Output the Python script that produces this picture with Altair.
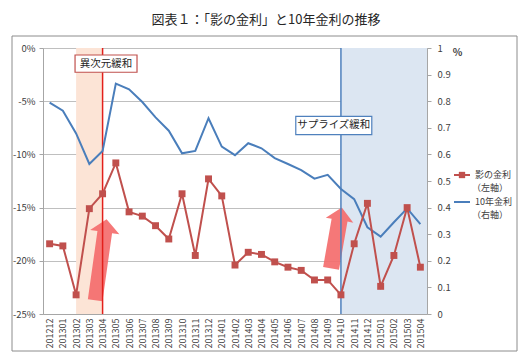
import altair as alt
import pandas as pd

months = ["201212", "201301", "201302", "201303", "201304", "201305", "201306",
          "201307", "201308", "201309", "201310", "201311", "201312", "201401",
          "201402", "201403", "201404", "201405", "201406", "201407", "201408",
          "201409", "201410", "201411", "201412", "201501", "201502", "201503",
          "201504"]
shadow_rate = [-18.4, -18.6, -23.2, -15.1, -13.7, -10.8, -15.4, -15.8, -16.7, -17.95,
               -13.7, -19.5, -12.3, -13.9, -20.4, -19.2, -19.4, -20.1, -20.6, -20.9,
               -21.8, -21.8, -23.2, -18.4, -14.6, -22.4, -19.5, -15.0, -20.6]
jgb10y = [0.795, 0.764, 0.679, 0.564, 0.613, 0.866, 0.845, 0.797, 0.739, 0.689,
          0.604, 0.613, 0.736, 0.629, 0.597, 0.642, 0.623, 0.586, 0.564, 0.541,
          0.509, 0.523, 0.470, 0.432, 0.326, 0.291, 0.345, 0.397, 0.338]
left_ticks = [-25, -20, -15, -10, -5, 0]
right_ticks = [0, 0.1, 0.2, 0.3, 0.4, 0.5, 0.6, 0.7, 0.8, 0.9, 1]
series_names = ["影の金利", "10年金利"]
series_notes = ["（左軸）", "（右軸）"]
title_text = "図表１：「影の金利」と10年金利の推移"

FONT = "Noto Sans CJK JP"
RED = "#C0504D"
BLUE = "#4A7EBB"
W, H = 384, 266

idx = list(range(len(months)))
df = pd.DataFrame({"i": idx, "month": months, "shadow": shadow_rate, "jgb": jgb10y})

label_expr = "[" + ",".join(f"'{m}'" for m in months) + "][datum.value]"
xscale = alt.Scale(domain=[-0.5, len(months) - 0.5], nice=False, zero=False)
yleft = alt.Scale(domain=[-25, 0], nice=False, zero=False)
yright = alt.Scale(domain=[0, 1], nice=False, zero=False)

x_axis = alt.Axis(values=idx, labelExpr=label_expr, labelAngle=270, labelFont=FONT,
                  labelFontSize=9, labelColor="#404040", ticks=False,
                  domainColor="#A6A6A6", grid=False, title=None, labelPadding=4)


def X(field):
    return alt.X(field, type="quantitative", scale=xscale, axis=x_axis)


def YL(field):
    return alt.Y(field, type="quantitative", scale=yleft, axis=None)


one = pd.DataFrame({"a": [0]})

# shaded periods (between months, by index)
orange = alt.Chart(pd.DataFrame({"s": [2], "e": [4]})).mark_rect(color="#FCE4D6").encode(
    x=X("s"), x2="e")
blueshade = alt.Chart(pd.DataFrame({"s": [22], "e": [len(months) - 0.5]})).mark_rect(
    color="#DCE6F2").encode(x=X("s"), x2="e")

# outer frame
frame = alt.Chart(one).mark_rect(fill="transparent", stroke="#8C8C8C", strokeWidth=1).encode(
    x=alt.value(-31), x2=alt.value(474), y=alt.value(-12), y2=alt.value(303))

# arrows
arrow1 = alt.Chart(pd.DataFrame({"i": [3.87], "v": [-19.9]})).mark_point(
    shape="M0,-1 L0.36,-0.68 L0.18,-0.68 L0.18,1 L-0.18,1 L-0.18,-0.68 L-0.36,-0.68 Z",
    filled=True, color="#F46C6C", opacity=0.92, size=6724, angle=8, strokeWidth=0).encode(
    x=X("i"), y=YL("v"))
arrow2 = alt.Chart(pd.DataFrame({"i": [21.66], "v": [-17.85]})).mark_point(
    shape="M0,-1 L0.45,-0.58 L0.26,-0.58 L0.26,1 L-0.26,1 L-0.26,-0.58 L-0.45,-0.58 Z",
    filled=True, color="#F46C6C", opacity=0.92, size=3844, angle=10, strokeWidth=0).encode(
    x=X("i"), y=YL("v"))

redrule = alt.Chart(pd.DataFrame({"i": [4]})).mark_rule(color="#E3201B", strokeWidth=1.5).encode(
    x=X("i"))
bluerule = alt.Chart(pd.DataFrame({"i": [22]})).mark_rule(color="#4F81BD", strokeWidth=1.5).encode(
    x=X("i"))

base = alt.Chart(df)

blue_line = base.mark_line(color=BLUE, strokeWidth=2).encode(
    x=X("i"),
    y=alt.Y("jgb:Q", scale=yright,
            axis=alt.Axis(orient="right", values=right_ticks, format="~g", grid=False,
                          labelFont=FONT, labelFontSize=9.5, labelColor="#404040",
                          domainColor="#A6A6A6", tickColor="#A6A6A6", tickSize=4,
                          labelPadding=6, title="%", titleAngle=0, titleFont=FONT,
                          titleFontSize=10, titleFontWeight="bold", titleColor="#404040",
                          titleX=30, titleY=4, titleAlign="center", titleBaseline="middle")))

red_line = base.mark_line(color=RED, strokeWidth=2).encode(
    x=X("i"),
    y=alt.Y("shadow:Q", scale=yleft,
            axis=alt.Axis(orient="left", values=left_ticks, labelExpr="datum.value + '%'",
                          grid=True, gridColor="#BFBFBF", gridWidth=1,
                          labelFont=FONT, labelFontSize=9.5, labelColor="#404040",
                          domainColor="#A6A6A6", tickColor="#A6A6A6", tickSize=4,
                          labelPadding=4, title=None)))
red_pts = base.mark_point(shape="square", filled=True, size=48, color=RED, opacity=1).encode(
    x=X("i"), y=YL("shadow"))

# annotation boxes
box1 = alt.Chart(pd.DataFrame({"a": [1.92], "b": [6.6], "t": [-0.66], "u": [-2.28]})).mark_rect(
    fill="white", stroke=RED, strokeWidth=1.2).encode(x=X("a"), x2="b", y=YL("t"), y2="u")
txt1 = alt.Chart(pd.DataFrame({"i": [4.26], "v": [-1.47], "s": ["異次元緩和"]})).mark_text(
    font=FONT, fontSize=10.5, color="#262626").encode(x=X("i"), y=YL("v"), text="s:N")
box2 = alt.Chart(pd.DataFrame({"a": [18.59], "b": [24.33], "t": [-6.42], "u": [-8.15]})).mark_rect(
    fill="white", stroke="#4F81BD", strokeWidth=1.2).encode(x=X("a"), x2="b", y=YL("t"), y2="u")
txt2 = alt.Chart(pd.DataFrame({"i": [21.46], "v": [-7.28], "s": ["サプライズ緩和"]})).mark_text(
    font=FONT, fontSize=10.5, color="#262626").encode(x=X("i"), y=YL("v"), text="s:N")

# legend (drawn)
leg = []
for k, (name, note, col, y0) in enumerate(zip(series_names, series_notes, [RED, BLUE], [127, 154])):
    leg.append(alt.Chart(one).mark_rule(color=col, strokeWidth=2).encode(
        x=alt.value(411), x2=alt.value(427), y=alt.value(y0)))
    if k == 0:
        leg.append(alt.Chart(one).mark_point(shape="square", filled=True, size=40, color=col,
                                             opacity=1).encode(x=alt.value(419), y=alt.value(y0)))
    leg.append(alt.Chart(pd.DataFrame({"s": [name]})).mark_text(
        font=FONT, fontSize=9, color="#404040", align="left", baseline="middle").encode(
        x=alt.value(432), y=alt.value(y0), text="s:N"))
    leg.append(alt.Chart(pd.DataFrame({"s": [note]})).mark_text(
        font=FONT, fontSize=9, color="#404040", align="left", baseline="middle").encode(
        x=alt.value(429), y=alt.value(y0 + 12.5), text="s:N"))

chart = alt.layer(
    orange, blueshade, frame, arrow1, arrow2, redrule, bluerule,
    blue_line, red_line, red_pts, box1, txt1, box2, txt2, *leg
).resolve_scale(y="independent").properties(
    width=W, height=H,
    autosize="none",
    padding={"left": 35, "top": 40, "right": 97, "bottom": 42},
    title=alt.TitleParams(title_text, font=FONT, fontSize=13, fontWeight="normal",
                          color="#262626", anchor="middle", dx=31, offset=9),
).configure_view(stroke=None).configure(background="white")

chart.save("out.html", embed_options={"renderer": "svg", "actions": False})
